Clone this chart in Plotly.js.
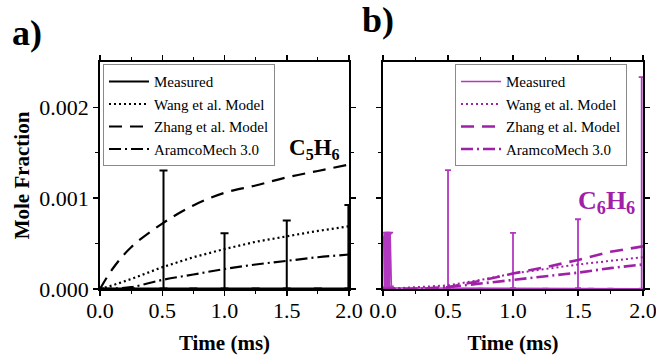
<!DOCTYPE html>
<html>
<head>
<meta charset="utf-8">
<script src="https://cdn.plot.ly/plotly-3.0.1.min.js"></script>
<style>html,body{margin:0;padding:0;background:#fff;}#chart{width:656px;height:355px;}</style>
</head>
<body>
<div id="chart"></div>
<script>
// ---- data ----
const modelTime = [0, 0.1, 0.25, 0.5, 0.75, 1.0, 1.25, 1.5, 1.75, 2.0];

// C5H6 (panel a)
const wangC5   = [0, 0.00004, 0.00011, 0.00024, 0.00035, 0.00044, 0.00052, 0.00058, 0.00064, 0.00069];
const zhangC5  = [0, 0.00022, 0.00046, 0.00072, 0.00092, 0.00106, 0.00114, 0.00123, 0.0013, 0.00137];
const aramcoC5 = [0, 0.000005, 0.00002, 0.0001, 0.00016, 0.00022, 0.00027, 0.00031, 0.00035, 0.00038];
const measTimeC5 = [0.0, 0.25, 0.51, 0.75, 1.0, 1.25, 1.5, 1.75, 1.995];
const measC5     = [0.000005, 0.000005, 0.000005, 0.000005, 0.000005, 0.000005, 0.000005, 0.000005, 0.000005];
const errC5      = [0, 0, 0.0013, 0, 0.00061, 0, 0.00075, 0, 0.00092];

// C6H6 (panel b)
const wangC6   = [0, 0.000005, 0.00002, 0.00004, 0.0001, 0.00017, 0.00022, 0.00027, 0.00031, 0.00035];
const zhangC6  = [0, 0, 0, 0.00002, 0.00009, 0.00017, 0.00024, 0.00032, 0.00041, 0.00047];
const aramcoC6 = [0, 0, 0, 0.00002, 0.00006, 0.0001, 0.00014, 0.00018, 0.00023, 0.00027];
const measTimeC6 = [0.005, 0.01, 0.015, 0.02, 0.025, 0.03, 0.035, 0.04, 0.045, 0.05, 0.055, 0.06, 0.065,
                    0.25, 0.5, 0.75, 1.0, 1.25, 1.5, 1.6, 1.75, 1.99];
const measC6     = [0.00058, 0.00002, 0.00062, 0.00001, 0.0006, 0.00003, 0.00062, 0.00002, 0.00061, 0.00001, 0.00062, 0.00003, 0.00001,
                    0.00001, 0.00001, 0.000005, 0.000008, 0.000005, 0.000008, 0.000005, 0.000003, 0.000003];
const errC6      = [0, 0, 0, 0, 0, 0, 0, 0, 0, 0, 0, 0, 0,
                    0, 0.0013, 0, 0.00061, 0, 0.00076, 0, 0, 0.00233];

const seriesNames = ['Measured', 'Wang et al. Model', 'Zhang et al. Model', 'AramcoMech 3.0'];
const xTickLabels = ['0.0', '0.5', '1.0', '1.5', '2.0'];
const yTickLabels = ['0.000', '0.001', '0.002'];

// ---- styles ----
const black = '#000000';
const purple = '#a020a8';
const purpleMeas = '#b238c0';
const serif = 'Liberation Serif';
const DOT = '2px,3px';
const DASH = '13px,8px';
const DASHDOT = '12px,4px,2px,4px';

function zeros(n){ const a=[]; for(let i=0;i<n;i++) a.push(0); return a; }

const traces = [
  // panel a
  {x: measTimeC5, y: measC5, name: seriesNames[0], mode: 'lines', xaxis:'x', yaxis:'y', legend:'legend',
   line:{color:black, width:2},
   error_y:{type:'data', symmetric:false, array: errC5, arrayminus: zeros(errC5.length), color:black, thickness:2, width:4}},
  {x: modelTime, y: wangC5, name: seriesNames[1], mode:'lines', xaxis:'x', yaxis:'y', legend:'legend',
   line:{color:black, width:2.2, dash:DOT}},
  {x: modelTime, y: zhangC5, name: seriesNames[2], mode:'lines', xaxis:'x', yaxis:'y', legend:'legend',
   line:{color:black, width:2.2, dash:DASH, shape:'spline'}},
  {x: modelTime, y: aramcoC5, name: seriesNames[3], mode:'lines', xaxis:'x', yaxis:'y', legend:'legend',
   line:{color:black, width:2.2, dash:DASHDOT, shape:'spline'}},
  // panel b
  {x: measTimeC6, y: measC6, name: seriesNames[0], mode: 'lines', xaxis:'x2', yaxis:'y2', legend:'legend2',
   line:{color:purpleMeas, width:1.5},
   error_y:{type:'data', symmetric:false, array: errC6, arrayminus: zeros(errC6.length), color:purpleMeas, thickness:1.8, width:3}},
  {x: modelTime, y: wangC6, name: seriesNames[1], mode:'lines', xaxis:'x2', yaxis:'y2', legend:'legend2',
   line:{color:purple, width:2, dash:DOT}},
  {x: modelTime, y: zhangC6, name: seriesNames[2], mode:'lines', xaxis:'x2', yaxis:'y2', legend:'legend2',
   line:{color:purple, width:2.6, dash:DASH}},
  {x: modelTime, y: aramcoC6, name: seriesNames[3], mode:'lines', xaxis:'x2', yaxis:'y2', legend:'legend2',
   line:{color:purple, width:2.6, dash:DASHDOT}}
];

const xTickVals = [0, 0.5, 1.0, 1.5, 2.0];
const yTickVals = [0, 0.001, 0.002];

function xAxis(domain, anchor){
  return {
    domain: domain, anchor: anchor, range:[0, 2.0], fixedrange:true,
    tickvals: xTickVals, ticktext: xTickLabels, ticklabeloverflow:'allow', ticklabelstandoff:-4,
    ticks:'outside', ticklen:5, tickwidth:1.5, tickcolor:black,
    minor:{tickvals:[0.25,0.75,1.25,1.75], ticks:'outside', ticklen:3, tickwidth:1.2, tickcolor:black},
    showline:true, linecolor:black, linewidth:1.8, mirror:'ticks',
    showgrid:false, zeroline:false,
    tickfont:{family:serif, size:22, color:black},
    title:{text:'Time (ms)', font:{family:serif, size:21, weight:'bold', color:black}, standoff:16}
  };
}
function yAxis(anchor, labels){
  const ax = {
    anchor: anchor, range:[0, 0.0025], fixedrange:true,
    tickvals: yTickVals, ticktext: yTickLabels, showticklabels: labels, ticklabeloverflow:'allow',
    ticks:'outside', ticklen:5, tickwidth:1.5, tickcolor:black,
    minor:{tickvals:[0.0005,0.0015], ticks:'outside', ticklen:3, tickwidth:1.2, tickcolor:black},
    showline:true, linecolor:black, linewidth:1.8, mirror:'ticks',
    showgrid:false, zeroline:false,
    tickfont:{family:serif, size:22, color:black}
  };
  if (labels) ax.title = {text:'Mole Fraction', font:{family:serif, size:21, weight:'bold', color:black}, standoff:4};
  return ax;
}

const legendCommon = {
  bgcolor:'#ffffff', bordercolor:'#8a8a8a', borderwidth:1,
  font:{family:serif, size:15, color:black},
  tracegroupgap:0, itemwidth:40, yanchor:'top', xanchor:'left'
};

const layout = {
  width:656, height:355,
  margin:{l:100, r:13, t:62, b:66},
  paper_bgcolor:'#ffffff', plot_bgcolor:'#ffffff',
  font:{family:serif},
  xaxis: xAxis([0, 0.4586], 'y'),
  yaxis: yAxis('x', true),
  xaxis2: xAxis([0.5212, 1], 'y2'),
  yaxis2: yAxis('x2', false),
  legend: Object.assign({x:0.0055, y:0.99}, legendCommon),
  legend2: Object.assign({x:0.6538, y:0.99}, legendCommon),
  annotations:[
    {text:'<b>a)</b>', xref:'paper', yref:'paper', x:-0.165, y:1.1275, xanchor:'left', yanchor:'middle',
     showarrow:false, font:{family:serif, size:36, color:black}},
    {text:'<b>b)</b>', xref:'paper', yref:'paper', x:0.478, y:1.1846, xanchor:'left', yanchor:'middle',
     showarrow:false, font:{family:serif, size:36, color:black}},
    {text:'<b>C<sub>5</sub>H<sub>6</sub></b>', xref:'x', yref:'y', x:1.72, y:0.00154, xanchor:'center', yanchor:'middle',
     showarrow:false, font:{family:serif, size:23, color:black}},
    {text:'<b>C<sub>6</sub>H<sub>6</sub></b>', xref:'x2', yref:'y2', x:1.72, y:0.00096, xanchor:'center', yanchor:'middle',
     showarrow:false, font:{family:serif, size:26, color:purple}}
  ]
};

Plotly.newPlot('chart', traces, layout, {staticPlot:true, displayModeBar:false});
</script>
</body>
</html>
